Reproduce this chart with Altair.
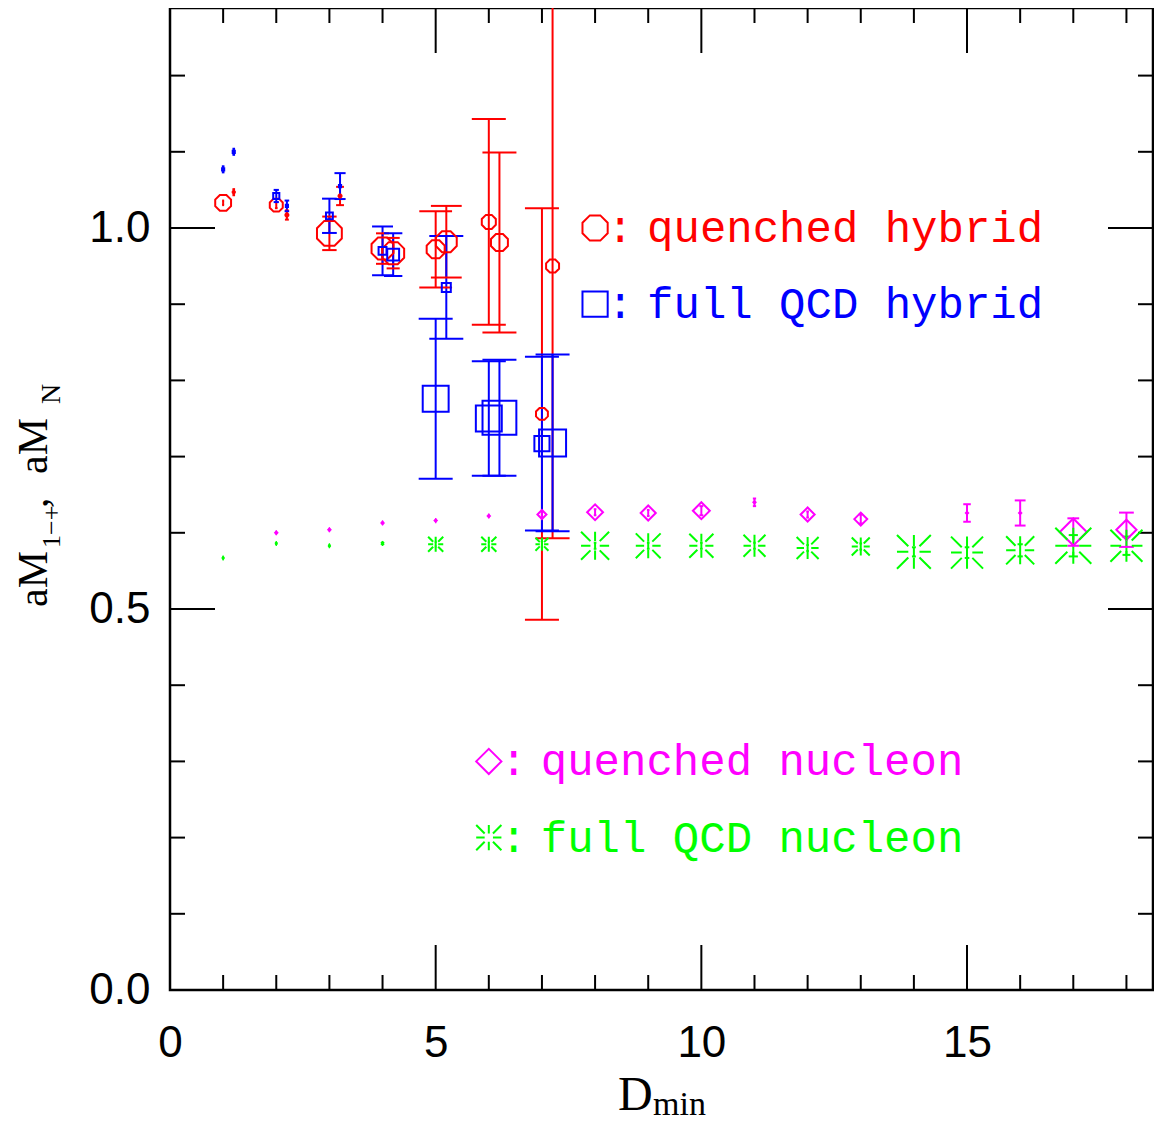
import altair as alt
import pandas as pd

# ---------------- data ----------------
qh_x = [1, 1.2, 2, 2.2, 3, 3.2, 4, 4.2, 5, 5.2, 6, 6.2, 7, 7.2]
qh_y = [1.033, 1.047, 1.030, 1.017, 0.993, 1.042, 0.973, 0.967, 0.972, 0.982, 1.008, 0.981, 0.756, 0.950]
qh_err = [0.003, 0.004, 0.004, 0.006, 0.022, 0.012, 0.020, 0.020, 0.050, 0.047, 0.135, 0.118, 0.270, 0.357]
qh_q = [0.44, 0.06, 0.36, 0.08, 0.69, 0.08, 0.61, 0.61, 0.50, 0.58, 0.39, 0.47, 0.33, 0.36]

fh_x = [1, 1.2, 2, 2.2, 3, 3.2, 4, 4.2, 5, 5.2, 6, 6.2, 7, 7.2]
fh_y = [1.077, 1.100, 1.042, 1.029, 1.016, 1.055, 0.970, 0.965, 0.776, 0.922, 0.750, 0.751, 0.717, 0.718]
fh_err = [0.004, 0.004, 0.008, 0.007, 0.0225, 0.017, 0.032, 0.028, 0.105, 0.0675, 0.075, 0.076, 0.114, 0.116]
fh_q = [0.06, 0.06, 0.17, 0.06, 0.19, 0.06, 0.22, 0.33, 0.72, 0.25, 0.72, 0.94, 0.42, 0.75]

qn_x = [2, 3, 4, 5, 6, 7, 8, 9, 10, 11, 12, 13, 15, 16, 17, 18]
qn_y = [0.600, 0.604, 0.613, 0.616, 0.622, 0.624, 0.627, 0.626, 0.629, 0.640, 0.624, 0.618, 0.626, 0.626, 0.601, 0.604]
qn_err = [0.002, 0.002, 0.002, 0.002, 0.002, 0.003, 0.004, 0.004, 0.006, 0.005, 0.004, 0.006, 0.0115, 0.0165, 0.018, 0.0225]
qn_q = [0.06, 0.06, 0.06, 0.06, 0.06, 0.25, 0.44, 0.42, 0.47, 0.06, 0.39, 0.36, 0.06, 0.06, 0.75, 0.56]

fn_x = [1, 2, 3, 4, 5, 6, 7, 8, 9, 10, 11, 12, 13, 14, 15, 16, 17, 18]
fn_y = [0.567, 0.586, 0.583, 0.586, 0.585, 0.585, 0.585, 0.583, 0.583, 0.583, 0.583, 0.580, 0.582, 0.575, 0.574, 0.577, 0.583, 0.583]
fn_err = [0.002, 0.002, 0.002, 0.002, 0.003, 0.003, 0.003, 0.004, 0.004, 0.004, 0.004, 0.004, 0.004, 0.006, 0.007, 0.008, 0.014, 0.012]
fn_q = [0.06, 0.06, 0.06, 0.08, 0.42, 0.42, 0.36, 0.78, 0.69, 0.67, 0.61, 0.61, 0.50, 0.94, 0.89, 0.78, 1.00, 0.89]

series_names = ["quenched hybrid", "full QCD hybrid", "quenched nucleon", "full QCD nucleon"]
legend_x = [8, 8, 6, 6]
legend_y = [1.0, 0.9, 0.3, 0.2]

x_major = [0, 5, 10, 15]
x_minor = [1, 2, 3, 4, 6, 7, 8, 9, 11, 12, 13, 14, 16, 17, 18]
y_major = [0.0, 0.5, 1.0]
y_minor = [0.1, 0.2, 0.3, 0.4, 0.6, 0.7, 0.8, 0.9, 1.1, 1.2]

# ---------------- styling ----------------
colors = ["#ff0000", "#0000ff", "#ff00ff", "#00ff00"]
OCT = "M1,0.414L0.414,1L-0.414,1L-1,0.414L-1,-0.414L-0.414,-1L0.414,-1L1,-0.414Z"
BURST = ("M0.33,0L1,0M-0.33,0L-1,0M0,0.33L0,1M0,-0.33L0,-1"
         "M0.33,0.33L1,1M-0.33,-0.33L-1,-1M0.33,-0.33L1,-1M-0.33,0.33L-1,1")
shapes = [OCT, "square", "diamond", BURST]

W, H = 983, 982
XMAX = 18.5
YMAX = 982 / 762.0
PXU = H / YMAX

rows = []
for name, xs_, ys_, es_, qs_ in [
    (series_names[0], qh_x, qh_y, qh_err, qh_q),
    (series_names[1], fh_x, fh_y, fh_err, fh_q),
    (series_names[2], qn_x, qn_y, qn_err, qn_q),
    (series_names[3], fn_x, fn_y, fn_err, fn_q),
]:
    for a, b, c, d in zip(xs_, ys_, es_, qs_):
        rows.append({"series": name, "x": a, "y": b, "err": c, "q": d})
df = pd.DataFrame(rows)

leg = pd.DataFrame({"series": series_names, "lx": legend_x, "ly": legend_y,
                    "label": series_names, "q": [0.7] * 4})

xs = alt.Scale(domain=[0, XMAX], nice=False, zero=False)
ys = alt.Scale(domain=[0, YMAX], nice=False, zero=False)
cs = alt.Scale(domain=series_names, range=colors)
ss = alt.Scale(domain=series_names, range=shapes)

x_axis = alt.Axis(values=x_major, ticks=False, domain=False, grid=False, title=None,
                  labelFont="Liberation Sans", labelFontSize=44, labelPadding=31,
                  labelColor="black", labelFlush=False)
y_axis = alt.Axis(values=y_major, format=".1f", ticks=False, domain=False, grid=False, title=None,
                  labelFont="Liberation Sans", labelFontSize=44, labelPadding=20,
                  labelColor="black")

X = alt.X("x:Q", scale=xs, axis=x_axis)
color = alt.Color("series:N", scale=cs, legend=None)

base = alt.Chart(df).transform_calculate(
    lo="datum.y - datum.err",
    hi="datum.y + datum.err",
    capw=f"min(34, 0.43 * 2 * datum.err * {PXU})",
    sz="pow(36 * datum.q, 2)",
)

err_rules = base.mark_rule(strokeWidth=2, clip=True).encode(
    x=X, y=alt.Y("lo:Q", scale=ys, axis=y_axis), y2="hi:Q", color=color)

caps = base.transform_fold(["lo", "hi"], as_=["end", "yv"]).mark_tick(
    orient="horizontal", thickness=2, clip=True, opacity=1).encode(
    x=X, y=alt.Y("yv:Q", scale=ys, axis=y_axis),
    size=alt.Size("capw:Q", scale=None), color=color)

points = base.mark_point(filled=False, strokeWidth=2, opacity=1, clip=True).encode(
    x=X, y=alt.Y("y:Q", scale=ys, axis=y_axis),
    shape=alt.Shape("series:N", scale=ss, legend=None),
    size=alt.Size("sz:Q", scale=None), color=color)

# legend (in-plot annotations)
leg_base = alt.Chart(leg).transform_calculate(sz="pow(36 * datum.q, 2)")
LX = alt.X("lx:Q", scale=xs, axis=x_axis)
LY = alt.Y("ly:Q", scale=ys, axis=y_axis)
leg_sym = leg_base.mark_point(filled=False, strokeWidth=2, opacity=1).encode(
    x=LX, y=LY, shape=alt.Shape("series:N", scale=ss, legend=None),
    size=alt.Size("sz:Q", scale=None), color=color)
leg_colon = leg_base.mark_text(text=":", font="Liberation Mono", fontSize=44, align="center",
                               baseline="alphabetic", dx=25, dy=14).encode(x=LX, y=LY, color=color)
leg_text = leg_base.mark_text(font="Liberation Mono", fontSize=44, align="left",
                              baseline="alphabetic", dx=52, dy=14).encode(
    x=LX, y=LY, text="label:N", color=color)

# inward ticks on all four sides
def yticks(vals, length):
    d = alt.Chart(pd.DataFrame({"v": vals}))
    left = d.mark_rule(strokeWidth=2, color="black").encode(
        y=alt.Y("v:Q", scale=ys, axis=y_axis), x=alt.value(0), x2=alt.value(length))
    right = d.mark_rule(strokeWidth=2, color="black").encode(
        y=alt.Y("v:Q", scale=ys, axis=y_axis), x=alt.value(W), x2=alt.value(W - length))
    return [left, right]

def xticks(vals, length):
    d = alt.Chart(pd.DataFrame({"v": vals}))
    bottom = d.mark_rule(strokeWidth=2, color="black").encode(
        x=alt.X("v:Q", scale=xs, axis=x_axis), y=alt.value(H), y2=alt.value(H - length))
    top = d.mark_rule(strokeWidth=2, color="black").encode(
        x=alt.X("v:Q", scale=xs, axis=x_axis), y=alt.value(0), y2=alt.value(length))
    return [bottom, top]

tick_layers = yticks(y_major, 45) + yticks(y_minor, 15) + xticks(x_major, 45) + xticks(x_minor, 15)

# axis titles with sub-scripts
def label(txt, px, py, size, angle=0):
    return alt.Chart(pd.DataFrame({"t": [txt]})).mark_text(
        font="Liberation Serif", fontSize=size, align="left", baseline="alphabetic",
        angle=angle, color="black").encode(text="t:N", x=alt.value(px), y=alt.value(py))

titles = [
    label("aM", -123, 599, 42, 270),
    label("1\u2212+", -110, 540, 26, 270),
    label(",", -123, 500, 42, 270),
    label("aM", -123, 466, 42, 270),
    label("N", -110, 396, 28, 270),
    label("D", 448, 1102, 48),
    label("min", 483, 1107, 34),
]

chart = alt.layer(
    *tick_layers, err_rules, caps, points, leg_sym, leg_colon, leg_text, *titles
).properties(
    width=W, height=H,
    autosize=alt.AutoSizeParams(type="none"),
    padding={"left": 162, "top": 0, "right": 1, "bottom": 134},
    background="white",
).configure_view(stroke="black", strokeWidth=2.5)

chart.save("out.html", embed_options={"renderer": "svg", "actions": False})
